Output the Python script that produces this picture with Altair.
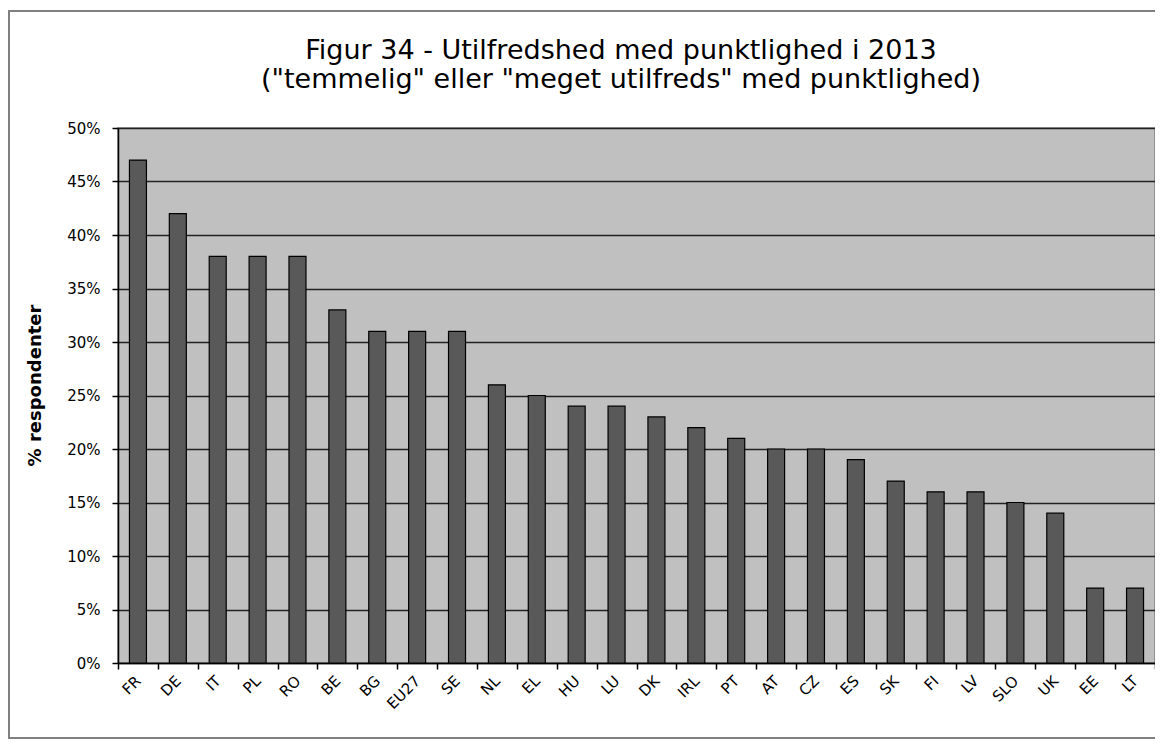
import altair as alt
import pandas as pd

countries = ["FR", "DE", "IT", "PL", "RO", "BE", "BG", "EU27", "SE", "NL", "EL", "HU", "LU",
             "DK", "IRL", "PT", "AT", "CZ", "ES", "SK", "FI", "LV", "SLO", "UK", "EE", "LT"]
values = [47, 42, 38, 38, 38, 33, 31, 31, 31, 26, 25, 24, 24,
          23, 22, 21, 20, 20, 19, 17, 16, 16, 15, 14, 7, 7]
title_lines = ["Figur 34 - Utilfredshed med punktlighed i 2013",
               "(\"temmelig\" eller \"meget utilfreds\" med punktlighed)"]

df = pd.DataFrame({"land": countries, "andel": [v / 100 for v in values]})

FONT = "DejaVu Sans"

bars = alt.Chart(df).mark_bar(size=17, color="#595959", stroke="#000000", strokeWidth=1.2).encode(
    x=alt.X("land:N", sort=countries,
            scale=alt.Scale(paddingInner=0, paddingOuter=0),
            axis=alt.Axis(title=None, labelAngle=315, labelAlign="right", labelBaseline="middle",
                          labelFont=FONT, labelFontSize=15, labelColor="#000000",
                          labelPadding=9, tickBand="extent", tickSize=6, tickColor="#000000",
                          tickWidth=1.5, domainColor="#000000", domainWidth=1.5, grid=False)),
    y=alt.Y("andel:Q", scale=alt.Scale(domain=[0, 0.5], nice=False),
            axis=alt.Axis(title="% respondenter", format=".0%", values=[i / 100 for i in range(0, 55, 5)],
                          labelFont=FONT, labelFontSize=15, labelColor="#000000", labelPadding=12,
                          tickSize=6, tickColor="#000000", tickWidth=1.5,
                          domainColor="#000000", domainWidth=1.5,
                          grid=True, gridColor="#222222", gridWidth=1.5,
                          titleFont=FONT, titleFontSize=18, titleFontWeight="bold",
                          titleColor="#000000", titlePadding=22, titleY=257)),
)

border = alt.Chart(df).mark_rect(fill=None, stroke="#808080", strokeWidth=2).encode(
    x=alt.value(-109), x2=alt.value(1060), y=alt.value(-117), y2=alt.value(610)
)

t1 = alt.Chart(pd.DataFrame({"t": [title_lines[0]]})).mark_text(
    font=FONT, fontSize=27, color="#000000", align="center", baseline="alphabetic"
).encode(text="t:N", x=alt.value(503), y=alt.value(-69))
t2 = alt.Chart(pd.DataFrame({"t": [title_lines[1]]})).mark_text(
    font=FONT, fontSize=27, color="#000000", align="center", baseline="alphabetic"
).encode(text="t:N", x=alt.value(503), y=alt.value(-40))

chart = alt.layer(border, bars, t1, t2).properties(
    width=1037, height=535,
    autosize=alt.AutoSizeParams(type="none"),
    padding={"left": 110, "top": 120, "right": 0, "bottom": 77},
    background="#FFFFFF",
).configure_view(
    fill="#C0C0C0", stroke="#808080", strokeWidth=1.5
)

chart.save("out.html", embed_options={"renderer": "svg", "actions": False})
